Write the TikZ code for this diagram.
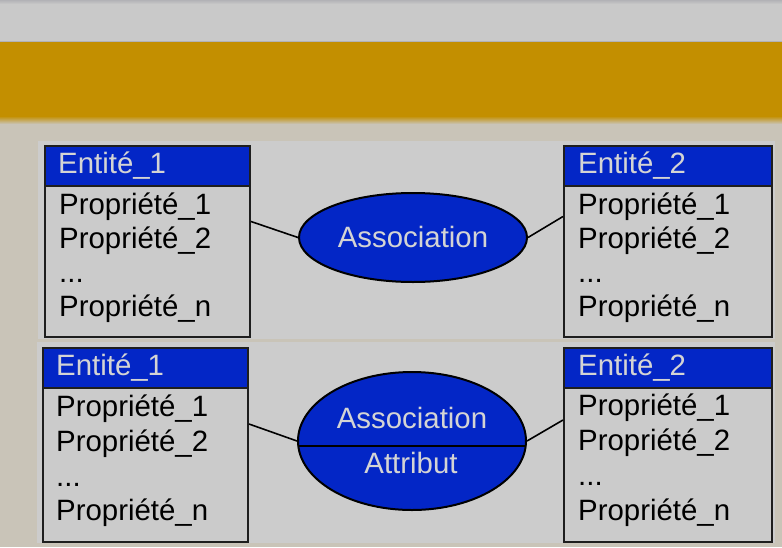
\documentclass[tikz,border=0pt]{standalone}
\usepackage{fontspec}
\setmainfont{Liberation Sans}
\usetikzlibrary{shapes.geometric,calc}
\definecolor{pagebg}{RGB}{201,196,184}
\definecolor{topband}{RGB}{201,201,201}
\definecolor{topedge}{RGB}{178,178,182}
\definecolor{goldband}{RGB}{195,143,0}
\definecolor{panelgray}{RGB}{204,204,204}
\definecolor{boxgray}{RGB}{203,203,203}
\definecolor{headblue}{RGB}{3,38,198}
\definecolor{headtext}{RGB}{212,212,212}
\definecolor{edge}{RGB}{30,30,30}
\tikzset{
  panel/.style={fill=panelgray, draw=none},
  entbody/.style={draw=edge, line width=2pt, fill=boxgray, minimum width=205pt, inner sep=0pt, anchor=north west},
  enthead/.style={draw=edge, line width=2pt, fill=headblue, minimum width=205pt, minimum height=40pt, inner sep=0pt, anchor=north west},
  headlabel/.style={anchor=base west, inner sep=0pt, text=headtext, font=\fontsize{29.4}{34}\selectfont},
  rowlabel/.style={anchor=base west, inner sep=0pt, text=black, font=\fontsize{29.4}{34}\selectfont},
  assoc/.style={ellipse, draw=black, line width=2pt, fill=headblue, inner sep=0pt},
  assoclabel/.style={inner sep=0pt, text=headtext, font=\fontsize{29.4}{34}\selectfont},
  link/.style={draw=black, line width=1.6pt},
}
\begin{document}
\begin{tikzpicture}[x=1pt, y=-1pt]
\useasboundingbox (0,0) rectangle (782,547);
% page background and title bands
\fill[pagebg] (0,0) rectangle (782,547);
\fill[topband] (0,0) rectangle (782,41);
\shade[top color=topedge, bottom color=topband] (0,0) rectangle (782,4);
\fill[goldband] (0,41) rectangle (782,116);
\draw[topedge, line width=0.8pt] (0,41) -- (782,41);
\shade[top color=goldband, bottom color=pagebg] (0,116) rectangle (782,124);
% light panels behind each row
\fill[panel] (38,141) rectangle (775,339);
\fill[panel] (37,342) rectangle (775,543);

% ---------- first row: plain association ----------
\node[entbody, minimum height=151pt] (e1a) at (44,185) {};
\node[enthead] (h1a) at (44,145) {};
\node[headlabel] (t1a) at (58,173) {Entité\_1};
\node[rowlabel] (r1a1) at (59,214) {Propriété\_1};
\node[rowlabel] (r1a2) at (59,248) {Propriété\_2};
\node[rowlabel] (r1a3) at (59,282) {...};
\node[rowlabel] (r1a4) at (59,316) {Propriété\_n};

\node[entbody, minimum width=208pt, minimum height=151pt] (e2a) at (563,185) {};
\node[enthead, minimum width=208pt] (h2a) at (563,145) {};
\node[headlabel] (t2a) at (578,173) {Entité\_2};
\node[rowlabel] (r2a1) at (578,214) {Propriété\_1};
\node[rowlabel] (r2a2) at (578,248) {Propriété\_2};
\node[rowlabel] (r2a3) at (578,282) {...};
\node[rowlabel] (r2a4) at (578,316) {Propriété\_n};

\node[assoc, minimum width=228pt, minimum height=89pt] (asA) at (413,237.5) {};
\node[assoclabel] (asAt) at (413,237) {Association};

\draw[link] ([yshift=40pt]e1a.east) -- (asA.west);
\draw[link] (asA.east) -- ([yshift=45pt]e2a.west);

% ---------- second row: association carrying an attribute ----------
\node[entbody, minimum height=154pt] (e1b) at (42,387) {};
\node[enthead] (h1b) at (42,347) {};
\node[headlabel] (t1b) at (56,375) {Entité\_1};
\node[rowlabel] (r1b1) at (56,416) {Propriété\_1};
\node[rowlabel] (r1b2) at (56,451) {Propriété\_2};
\node[rowlabel] (r1b3) at (56,486) {...};
\node[rowlabel] (r1b4) at (56,520) {Propriété\_n};

\node[entbody, minimum width=208pt, minimum height=154pt] (e2b) at (563,387) {};
\node[enthead, minimum width=208pt] (h2b) at (563,347) {};
\node[headlabel] (t2b) at (578,375) {Entité\_2};
\node[rowlabel] (r2b1) at (578,415) {Propriété\_1};
\node[rowlabel] (r2b2) at (578,450) {Propriété\_2};
\node[rowlabel] (r2b3) at (578,485) {...};
\node[rowlabel] (r2b4) at (578,520) {Propriété\_n};

\node[assoc, minimum width=228pt, minimum height=138pt] (asB) at (412,441) {};
\draw[black, line width=2pt] ($(asB.center)+(-113.7,5)$) -- ($(asB.center)+(113.7,5)$);
\node[assoclabel] (asBt) at (412,418) {Association};
\node[assoclabel] (asBa) at (411,463) {Attribut};

\draw[link] ([yshift=41pt]e1b.east) -- (asB.west);
\draw[link] (asB.east) -- ([yshift=45pt]e2b.west);
\end{tikzpicture}
\end{document}
